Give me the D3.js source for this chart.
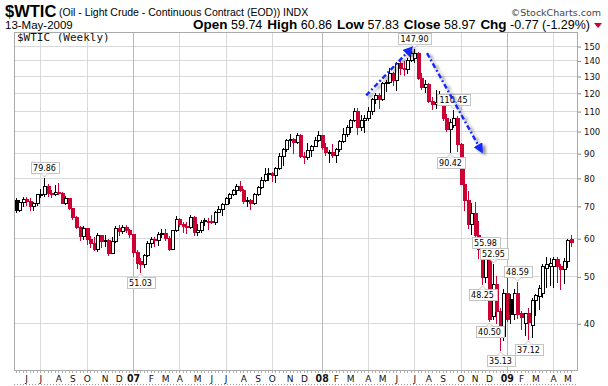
<!DOCTYPE html>
<html><head><meta charset="utf-8">
<script src="https://cdn.jsdelivr.net/npm/d3@7"></script>
<style>
html,body{margin:0;padding:0;background:#fff;}
svg{display:block;}
</style></head><body>
<svg id="c" width="608" height="386"></svg>
<script>
// ---------- DATA (weekly bars, Monday-dated) ----------
const firstWeek = "2006-05-15";
const weekCount = 157;
const opens = [
72.0,68.5,71.4,72.3,71.6,69.9,70.9,73.9,74.1,77.0,
74.4,74.0,74.8,74.4,71.1,72.5,69.2,66.3,63.3,60.6,
62.9,59.8,58.6,57.0,60.8,59.1,59.6,56.0,59.2,63.1,
62.0,63.4,62.4,61.1,56.3,53.9,53.1,55.4,58.6,59.9,
59.4,61.1,61.6,60.1,57.1,62.3,65.9,64.3,63.6,63.4,
66.5,61.9,62.4,65.3,65.2,65.1,64.8,68.0,68.9,70.7,
72.8,73.9,75.6,77.0,75.5,71.5,72.0,71.1,74.0,76.7,
79.1,81.6,81.7,81.2,83.7,88.6,91.9,95.9,96.3,95.1,
98.2,88.7,88.3,91.3,93.3,96.0,97.9,92.7,90.6,90.7,
89.0,91.8,95.5,98.8,101.8,105.2,110.2,101.8,105.6,106.2,
110.1,116.7,118.5,116.3,126.0,126.3,132.2,127.4,138.5,134.9,
134.6,140.2,141.5,145.1,128.9,123.3,125.1,115.2,113.8,114.6,
115.5,106.2,101.2,103.0,106.6,93.9,77.7,71.9,64.2,67.8,
61.0,57.0,49.9,54.4,41.3,48.3,42.4,37.7,46.3,44.8,
41.7,46.3,41.9,40.0,41.9,39.6,44.7,45.5,46.3,52.0,
52.6,52.6,54.3,52.6,51.7,53.7,59.74];
const highs = [
72.6,72.0,73.0,73.1,72.6,71.2,74.0,75.8,79.86,77.6,
75.6,77.2,78.0,74.8,73.3,72.8,69.4,66.7,63.6,63.5,
63.1,60.6,60.2,61.6,61.0,61.0,59.8,60.3,63.7,64.0,
63.9,64.0,62.6,61.3,56.6,54.6,55.6,59.1,60.3,60.4,
61.9,62.8,62.6,60.6,62.5,66.7,66.2,64.9,64.9,66.9,
66.8,64.2,65.4,66.2,66.0,67.0,68.2,69.9,70.9,72.9,
74.5,76.0,77.6,78.8,75.9,73.0,72.4,74.5,77.0,80.4,
83.9,83.8,82.1,84.1,90.1,92.2,96.2,98.6,96.8,99.3,
98.5,90.6,94.4,93.7,97.0,100.1,98.0,94.5,91.4,93.9,
92.3,96.0,101.3,103.0,106.0,111.8,111.5,108.0,107.8,112.2,
117.0,119.9,119.9,126.2,127.8,135.1,132.6,139.1,139.9,139.9,
142.0,146.7,147.9,146.0,131.6,127.8,125.5,117.8,121.8,120.9,
117.0,108.5,106.0,110.45,107.5,94.5,83.8,75.3,71.0,71.2,
65.0,59.2,55.98,54.6,52.95,50.0,43.0,47.0,49.9,46.0,
47.0,48.59,42.3,42.0,43.0,45.2,46.0,48.0,53.0,54.9,
54.5,54.8,54.8,53.1,54.6,59.8,60.86];
const lows = [
68.1,68.3,70.0,70.3,68.5,68.7,70.4,73.0,73.3,73.4,
73.1,73.8,74.0,70.8,70.6,68.8,65.6,62.9,59.5,59.9,
58.3,57.4,56.6,56.5,57.4,57.9,55.4,55.9,59.0,61.0,
61.5,61.7,60.2,55.1,52.0,51.03,52.3,55.0,57.6,57.7,
58.0,60.3,59.4,56.6,57.0,62.0,63.6,61.9,61.6,63.0,
60.9,61.0,61.7,63.9,62.6,64.5,64.3,67.9,67.0,70.5,
71.1,73.6,74.0,75.0,70.9,69.8,69.0,70.7,73.6,76.2,
78.8,79.0,78.7,78.4,83.4,85.1,91.0,93.3,89.9,94.3,
88.2,86.0,87.6,88.9,93.0,95.5,91.9,89.2,86.1,88.3,
86.1,91.0,95.0,97.5,99.6,104.8,98.6,100.6,99.6,105.6,
108.6,114.5,111.8,115.9,121.2,125.6,124.8,121.6,131.4,130.5,
131.6,139.6,139.1,128.2,122.0,120.4,114.6,111.3,111.8,113.4,
105.5,100.1,90.42,102.0,91.0,77.6,68.6,63.0,61.3,60.5,
54.7,48.25,48.6,40.5,40.9,40.0,35.13,36.9,40.5,40.0,
40.8,41.0,38.9,37.9,37.12,37.4,41.5,42.9,45.3,47.6,
48.0,47.5,48.8,47.0,48.4,52.4,57.83];
const closes = [
68.5,71.4,72.3,71.6,69.9,70.9,73.9,74.1,77.0,74.4,
74.0,74.8,74.4,71.1,72.5,69.2,66.3,63.3,60.6,62.9,
59.8,58.6,57.0,60.8,59.1,59.6,56.0,59.2,63.1,62.0,
63.4,62.4,61.1,56.3,53.3,53.1,55.4,58.6,59.9,59.4,
61.1,61.6,60.1,57.1,62.3,65.9,64.3,63.6,63.4,66.5,
61.9,62.4,64.9,65.2,65.1,64.8,68.0,68.9,70.7,72.8,
73.9,75.6,77.0,75.5,71.5,72.0,71.1,74.0,76.7,79.1,
81.6,81.7,81.2,83.7,88.6,91.9,95.9,96.3,95.1,98.2,
88.7,88.3,91.3,93.3,96.0,97.9,92.7,90.6,90.7,89.0,
91.8,95.5,98.8,101.8,105.2,110.2,101.8,105.6,106.2,110.1,
116.7,118.5,116.3,126.0,126.3,132.2,127.4,138.5,134.9,134.6,
140.2,144.9,145.1,128.9,123.3,125.1,115.2,113.8,114.6,115.5,
106.2,101.2,104.6,106.6,93.9,77.7,71.9,64.2,67.8,61.0,
57.0,49.9,54.4,40.8,48.3,42.4,37.7,46.3,40.8,41.7,
46.3,41.7,41.2,41.9,40.3,44.7,45.8,47.2,52.6,53.1,
53.4,54.3,52.6,51.7,53.7,59.6,58.97];

const yTickValues = [40,50,60,70,80,90,100,110,120,130,140,150];
const monthLetters = ["J","F","M","A","M","J","J","A","S","O","N","D"];

// swing labels: bar index + which extreme
const noteIdx  = [8, 35, 112, 123, 122, 132, 134, 131, 133, 136, 141, 144];
const noteType = ["h","l","h","h","l","h","h","l","l","l","h","l"];

// trend arrows: [bar index, price] pairs
const arrowFrom = [[98.5, 118.5], [115.6, 145.0]];
const arrowTo   = [[111.3, 148.8], [131.0, 90.6]];

const headerFields = [["Open","59.74"],["High","60.86"],["Low","57.83"],["Close","58.97"],["Chg","-0.77 (-1.29%)"]];

// ---------- CHART ----------
const svg = d3.select("#c");
const P = {l:14, r:578, t:32, b:370};
const RED = "#cc0033";
const weeks = d3.timeMonday.range(new Date(firstWeek+"T00:00:00"), new Date(2009,4,12)).slice(0, weekCount);
const n = weeks.length;

const x = d3.scalePoint().domain(d3.range(n)).range([15.5, 15.5 + 3.56*(n-1)]);
const xf = v => x(0) + (x(1)-x(0))*v;
const y = d3.scaleLog().domain([32, 159.6]).range([P.b, P.t+1]);

const defs = svg.append("defs");
const f = defs.append("filter").attr("id","sh").attr("x","-20%").attr("y","-20%").attr("width","140%").attr("height","140%");
f.append("feGaussianBlur").attr("in","SourceAlpha").attr("stdDeviation",1.6).attr("result","b");
f.append("feOffset").attr("in","b").attr("dx",3).attr("dy",2).attr("result","o");
f.append("feComponentTransfer").attr("in","o").attr("result","o2")
  .append("feFuncA").attr("type","linear").attr("slope",0.45);
const fm = f.append("feMerge"); fm.append("feMergeNode").attr("in","o2"); fm.append("feMergeNode").attr("in","SourceGraphic");
defs.append("marker").attr("id","ah").attr("viewBox","0 0 10 10").attr("refX",8).attr("refY",5)
  .attr("markerWidth",4.2).attr("markerHeight",4.2).attr("orient","auto").attr("markerUnits","strokeWidth")
  .append("path").attr("d","M0,0 L10,5 L0,10 Z").attr("fill","#1428ff");

// grid
const g = svg.append("g");
yTickValues.forEach(v=>{
  const yy = Math.round(y(v))+0.5;
  g.append("line").attr("x1",P.l).attr("x2",P.r).attr("y1",yy).attr("y2",yy).attr("stroke","#d9d9d9");
});
weeks.forEach((d,i)=>{
  if (d.getDate() <= 7 && d.getMonth()%3===0) {
    const xx = Math.round(x(i))+0.5;
    g.append("line").attr("x1",xx).attr("x2",xx).attr("y1",P.t).attr("y2",P.b)
      .attr("stroke", d.getMonth()===0 ? "#b8b8b8" : "#d9d9d9");
  }
});

// frame
svg.append("rect").attr("x",P.l+0.5).attr("y",P.t+0.5).attr("width",P.r-P.l-1).attr("height",P.b-P.t)
  .attr("fill","none").attr("stroke","#a9a9a9");

// weekly ticks + dotted bottom line
weeks.forEach((d,i)=>{
  const xx = Math.round(x(i))+0.5;
  svg.append("line").attr("x1",xx).attr("x2",xx).attr("y1",P.b+0.5).attr("y2",P.b+3).attr("stroke","#b0b0b0");
});
svg.append("line").attr("x1",P.l).attr("x2",P.r).attr("y1",384.5).attr("y2",384.5)
  .attr("stroke","#9a9a9a").attr("stroke-dasharray","1,2");

// month labels
weeks.forEach((d,i)=>{
  if (d.getDate() <= 7) {
    const m = d.getMonth();
    const t = svg.append("text").attr("x",x(i)+0.5).attr("y",382).attr("text-anchor","middle")
      .attr("fill","#111");
    if (m===0) t.text(String(d.getFullYear()).slice(2)).attr("font-family","'DejaVu Sans Condensed','DejaVu Sans'").attr("font-weight","bold").attr("font-size",10.5);
    else t.text(monthLetters[m]).attr("font-family","'DejaVu Sans'").attr("font-size",9);
  }
});

// y axis (right)
const ax = svg.append("g").attr("transform",`translate(${P.r},0.5)`)
  .call(d3.axisRight(y).tickValues(yTickValues).tickSize(3).tickPadding(3).tickFormat(d3.format("d")));
ax.select(".domain").remove();
ax.selectAll(".tick line").attr("stroke","#888");
ax.selectAll("text").attr("font-family","'DejaVu Sans'").attr("font-size",8.5).attr("fill","#111");

// candles: outer 4px body, wick 1px
const cg = svg.append("g").attr("shape-rendering","crispEdges");
d3.range(n).forEach(i=>{
  const o=opens[i], h=highs[i], l=lows[i], c=closes[i];
  const col = (i===0 || c >= closes[i-1]) ? "#000" : RED;
  const p = Math.round(x(i));
  cg.append("rect").attr("x",p).attr("y",Math.round(y(h))).attr("width",1)
    .attr("height",Math.max(Math.round(y(l))-Math.round(y(h))+1,1)).attr("fill",col);
  const top = Math.round(y(Math.max(o,c))), bot = Math.round(y(Math.min(o,c)));
  const bh = Math.max(bot-top+1, 2);
  cg.append("rect").attr("x",p-1).attr("y",top).attr("width",4).attr("height",bh).attr("fill",col);
  if (c > o && bh > 2) {
    cg.append("rect").attr("x",p).attr("y",top+1).attr("width",2).attr("height",bh-2).attr("fill","#fff");
  }
});

// price notes
noteIdx.forEach((bi,k)=>{
  const hi = noteType[k]==="h";
  const v = hi ? highs[bi] : lows[bi];
  const cx = Math.round(x(bi))+0.5;
  const py = y(v);
  const ng = svg.append("g");
  const t = ng.append("text").text(d3.format(".2f")(v)).attr("font-family","'DejaVu Sans'")
    .attr("font-size",8).attr("fill","#000").attr("text-anchor","middle").attr("x",cx);
  const w = t.node().getComputedTextLength()+5;
  const bh = 11;
  const by = hi ? Math.round(py - 5 - bh) : Math.round(py + 5);
  t.attr("y", by + 8.5);
  ng.insert("rect","text").attr("x",Math.round(cx - w/2)+0.5).attr("y",by+0.5).attr("width",Math.round(w)).attr("height",bh)
    .attr("fill","#fff").attr("stroke","#c4c4c4");
  const baseY = hi ? by+bh+0.5 : by+0.5;
  const tipY = hi ? baseY+3.5 : baseY-3.5;
  ng.append("path").attr("d",`M${cx-3.5},${baseY} L${cx},${tipY} L${cx+3.5},${baseY}`)
    .attr("fill","#fff").attr("stroke","#c4c4c4");
});

// trend arrows
arrowFrom.forEach((a,k)=>{
  const b = arrowTo[k];
  svg.append("line").attr("x1",xf(a[0])).attr("y1",y(a[1])).attr("x2",xf(b[0])).attr("y2",y(b[1]))
    .attr("stroke","#1428ff").attr("stroke-width",2.4).attr("stroke-dasharray","5,2.5,1.8,2.5")
    .attr("marker-end","url(#ah)").attr("filter","url(#sh)");
});

// plot caption
svg.append("text").attr("x",17).attr("y",41).text("$WTIC (Weekly)")
  .attr("font-family","'DejaVu Sans Mono'").attr("font-size",11).attr("fill","#111");

// header
svg.append("text").attr("x",5).attr("y",17).text("$WTIC")
  .attr("font-family","'Liberation Sans',Arial").attr("font-weight","bold").attr("font-size",16.5).attr("fill","#000");
svg.append("text").attr("x",59).attr("y",16).text("(Oil - Light Crude - Continuous Contract (EOD)) INDX")
  .attr("font-family","'Liberation Sans',Arial").attr("font-size",10.5).attr("fill","#000");
svg.append("text").attr("x",601).attr("y",16).attr("text-anchor","end").text("\u00a9StockCharts.com")
  .attr("font-family","'DejaVu Sans'").attr("font-size",9.5).attr("fill","#444");
svg.append("text").attr("x",5).attr("y",29).text("13-May-2009")
  .attr("font-family","'Liberation Sans',Arial").attr("font-size",11.5).attr("fill","#000");
const ht = svg.append("text").attr("x",590).attr("y",29).attr("text-anchor","end")
  .attr("font-family","'Liberation Sans',Arial").attr("fill","#000");
headerFields.forEach((f,k)=>{
  ht.append("tspan").text(f[0]).attr("font-weight","bold").attr("font-size",13.5).attr("dx", k? 5:0);
  ht.append("tspan").text(" "+f[1]).attr("font-size",12.5);
});
svg.append("path").attr("d","M594,23 L602,23 L598,28 Z").attr("fill",RED);
</script>
</body></html>
